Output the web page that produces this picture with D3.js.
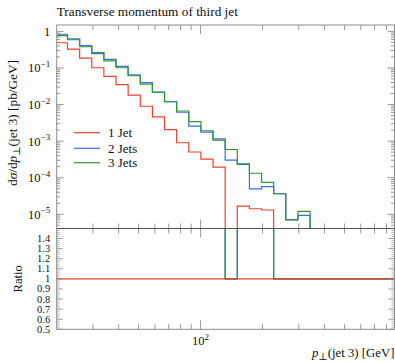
<!DOCTYPE html>
<html>
<head>
<meta charset="utf-8">
<script src="https://cdn.jsdelivr.net/npm/d3@7/dist/d3.min.js"></script>
<style>
  html, body { margin: 0; padding: 0; background: #fff; }
  svg { display: block; font-family: "Liberation Serif", "DejaVu Serif", serif; }
</style>
</head>
<body>
<svg id="chart" width="395" height="362"></svg>
<script>
// Bin edges of the third-jet pT histogram [GeV]
const binEdges = [20, 22.57, 25.85, 29.60, 33.90, 38.83, 44.47, 50.93, 58.33, 66.81,
  76.51, 87.63, 100.36, 114.94, 131.64, 150.77, 172.67, 197.76, 226.49, 259.40,
  297.09, 340.25, 389.69, 446.3, 511.2, 585.4, 670.5, 767.9, 879.5];

// dsigma/dpT [pb/GeV] per bin
const oneJet = [0.488, 0.328, 0.1865, 0.1013, 0.0590, 0.0348, 0.01818, 0.00899, 0.00458, 0.00205,
  0.000904, 0.000504, 0.000322, 0.000195, 0, 1.685e-5, 1.422e-5, 1.311e-5, 0, 0,
  0, 0, 0, 0, 0, 0, 0, 0];
const twoJets = [0.833, 0.624, 0.409, 0.2635, 0.1707, 0.1099, 0.0644, 0.0399, 0.02196, 0.01193,
  0.00616, 0.002586, 0.001772, 0.001148, 0.000303, 0.000240, 4.97e-5, 5.68e-5, 3.65e-5, 6.99e-6,
  9.39e-6, 0, 0, 0, 0, 0, 0, 0];
const threeJets = [0.768, 0.589, 0.3795, 0.2458, 0.1563, 0.1013, 0.0612, 0.0361, 0.02168, 0.01193,
  0.00665, 0.00343, 0.001924, 0.001072, 0.000590, 0.000232, 0.0001327, 7.48e-5, 3.65e-5, 7.16e-6,
  1.208e-5, 0, 0, 0, 0, 0, 0, 0];

const seriesNames = ["1 Jet", "2 Jets", "3 Jets"];
const seriesColors = ["#e8432c", "#3d6cf0", "#2f962f"];
const seriesValues = [oneJet, twoJets, threeJets];

const yMajorExps = [0, -1, -2, -3, -4, -5];
const ratioLabels = [1.4, 1.3, 1.2, 1.1, 1.0, 0.9, 0.8, 0.7, 0.6, 0.5];

// Layout
const L = 56.7, R = 394.5, T = 25, M = 228.5, B = 329.3;
const frameColor = "#8c8c8c";

const svg = d3.select("#chart");

const x = d3.scaleLog().domain([20, 875]).range([L, R]);
const y = d3.scaleLog().domain([4.1e-6, 1.49]).range([M, T]);
const yr = d3.scaleLinear().domain([0.5, 1.5]).range([B, M]);

const defs = svg.append("defs");
defs.append("clipPath").attr("id", "clipMain")
  .append("rect").attr("x", L).attr("y", T).attr("width", R - L).attr("height", M - T);
defs.append("clipPath").attr("id", "clipRatio")
  .append("rect").attr("x", L).attr("y", M).attr("width", R - L).attr("height", B - M);

// Step path through bins; empty bins drop below the panel
function stepPath(vals, yScale, floorY) {
  let d = "";
  vals.forEach((v, i) => {
    const x0 = x(binEdges[i]), x1 = x(binEdges[i + 1]);
    const yy = (v > 0 && isFinite(yScale(v))) ? yScale(v) : floorY;
    d += (i === 0 ? "M" : "L") + x0 + "," + yy + "L" + x1 + "," + yy;
  });
  return d;
}

// Main panel histograms
const gMain = svg.append("g").attr("clip-path", "url(#clipMain)");
seriesValues.forEach((vals, k) => {
  gMain.append("path")
    .attr("d", stepPath(vals, y, M + 50))
    .attr("fill", "none")
    .attr("stroke", seriesColors[k])
    .attr("stroke-width", 1.2);
});

// Ratio panel (reference: 1 Jet; bins with empty reference are set to 1)
const ratios = seriesValues.map(vals => vals.map((v, i) => oneJet[i] > 0 ? v / oneJet[i] : 1));
const gRatio = svg.append("g").attr("clip-path", "url(#clipRatio)");
[1, 2, 0].forEach(k => {
  gRatio.append("path")
    .attr("d", stepPath(ratios[k], v => Math.max(yr(v), M - 50), B + 50))
    .attr("fill", "none")
    .attr("stroke", seriesColors[k])
    .attr("stroke-width", 1.2);
});

// Frames
const gAx = svg.append("g").attr("stroke", frameColor).attr("fill", "none");
gAx.append("rect").attr("x", L).attr("y", T).attr("width", R - L).attr("height", B - T)
  .attr("stroke-width", 1);
svg.append("line").attr("x1", L).attr("x2", R).attr("y1", M).attr("y2", M)
  .attr("stroke", "#555").attr("stroke-width", 1.1);

// x ticks (log)
const xTicks = [];
for (let dec = 10; dec <= 1000; dec *= 10) {
  for (let m = 1; m <= 9; m++) {
    const v = m * dec;
    if (v > 20 && v < 875) xTicks.push({ v, major: m === 1 });
  }
}
xTicks.forEach(t => {
  const xx = x(t.v);
  const len = t.major ? 9 : 5;
  [[T, 1], [M, -1], [M, 1], [B, -1]].forEach(([y0, dir]) => {
    gAx.append("line").attr("x1", xx).attr("x2", xx)
      .attr("y1", y0).attr("y2", y0 + dir * len).attr("stroke-width", 0.9);
  });
});

// y ticks on main panel (log)
for (let e = -6; e <= 0; e++) {
  for (let m = 1; m <= 9; m++) {
    const v = m * Math.pow(10, e);
    if (v < 4.1e-6 || v > 1.49) continue;
    const yy = y(v);
    const len = m === 1 ? 7 : 3.5;
    gAx.append("line").attr("x1", L).attr("x2", L + len).attr("y1", yy).attr("y2", yy).attr("stroke-width", 0.9);
    gAx.append("line").attr("x1", R).attr("x2", R - len).attr("y1", yy).attr("y2", yy).attr("stroke-width", 0.9);
  }
}

// y ticks on ratio panel
for (let i = 0; i <= 50; i++) {
  const v = 0.5 + i * 0.02;
  const major = i % 5 === 0;
  const yy = yr(v);
  const len = major ? 6 : 3;
  gAx.append("line").attr("x1", L).attr("x2", L + len).attr("y1", yy).attr("y2", yy).attr("stroke-width", major ? 0.9 : 0.6);
  gAx.append("line").attr("x1", R).attr("x2", R - len).attr("y1", yy).attr("y2", yy).attr("stroke-width", major ? 0.9 : 0.6);
}

// Tick labels: main y
yMajorExps.forEach(e => {
  const t = svg.append("text").attr("x", L - 6.5).attr("y", y(Math.pow(10, e)) + 4.5)
    .attr("text-anchor", "end").attr("font-size", 12.5).attr("fill", "#111");
  if (e === 0) {
    t.text("1");
  } else {
    t.append("tspan").text("10");
    t.append("tspan").attr("dy", -5.5).attr("font-size", 9).text("\u2212" + (-e));
  }
});

// Tick labels: ratio y
ratioLabels.forEach(v => {
  svg.append("text").attr("x", L - 6.5).attr("y", yr(v) + 3.5)
    .attr("text-anchor", "end").attr("font-size", 10.5).attr("fill", "#111")
    .text(v === 1 ? "1" : d3.format(".1f")(v));
});

// Tick label: x
const xl = svg.append("text").attr("x", x(100)).attr("y", 345)
  .attr("text-anchor", "middle").attr("font-size", 12.5).attr("fill", "#111");
xl.append("tspan").text("10");
xl.append("tspan").attr("dy", -5.5).attr("font-size", 9).text("2");

// Title
svg.append("text").attr("x", L).attr("y", 16).attr("font-size", 13.3).attr("fill", "#111")
  .text("Transverse momentum of third jet");

// Axis titles
const yt = svg.append("text").attr("transform", "translate(17,123) rotate(-90)")
  .attr("text-anchor", "middle").attr("font-size", 13.3).attr("fill", "#111");
yt.append("tspan").text("d");
yt.append("tspan").attr("font-style", "italic").text("\u03c3");
yt.append("tspan").text("/d");
yt.append("tspan").attr("font-style", "italic").text("p");
yt.append("tspan").attr("dy", 3).attr("font-size", 10).text("\u22a5");
yt.append("tspan").attr("dy", -3).text("(jet 3) [pb/GeV]");

svg.append("text").attr("transform", "translate(22," + yr(1) + ") rotate(-90)")
  .attr("text-anchor", "middle").attr("font-size", 12.5).attr("fill", "#111").text("Ratio");

const xt = svg.append("text").attr("x", R).attr("y", 357)
  .attr("text-anchor", "end").attr("font-size", 12.8).attr("fill", "#111");
xt.append("tspan").attr("font-style", "italic").text("p");
xt.append("tspan").attr("dy", 3).attr("font-size", 10).text("\u22a5");
xt.append("tspan").attr("dy", -3).text("(jet 3) [GeV]");

// Legend
const legY = [132.7, 148.3, 162.7];
seriesNames.forEach((name, k) => {
  svg.append("line").attr("x1", 74).attr("x2", 100).attr("y1", legY[k]).attr("y2", legY[k])
    .attr("stroke", seriesColors[k]).attr("stroke-width", 1.2);
  svg.append("text").attr("x", 108).attr("y", legY[k] + 4.5).attr("font-size", 13).attr("fill", "#111")
    .text(name);
});
</script>
</body>
</html>
